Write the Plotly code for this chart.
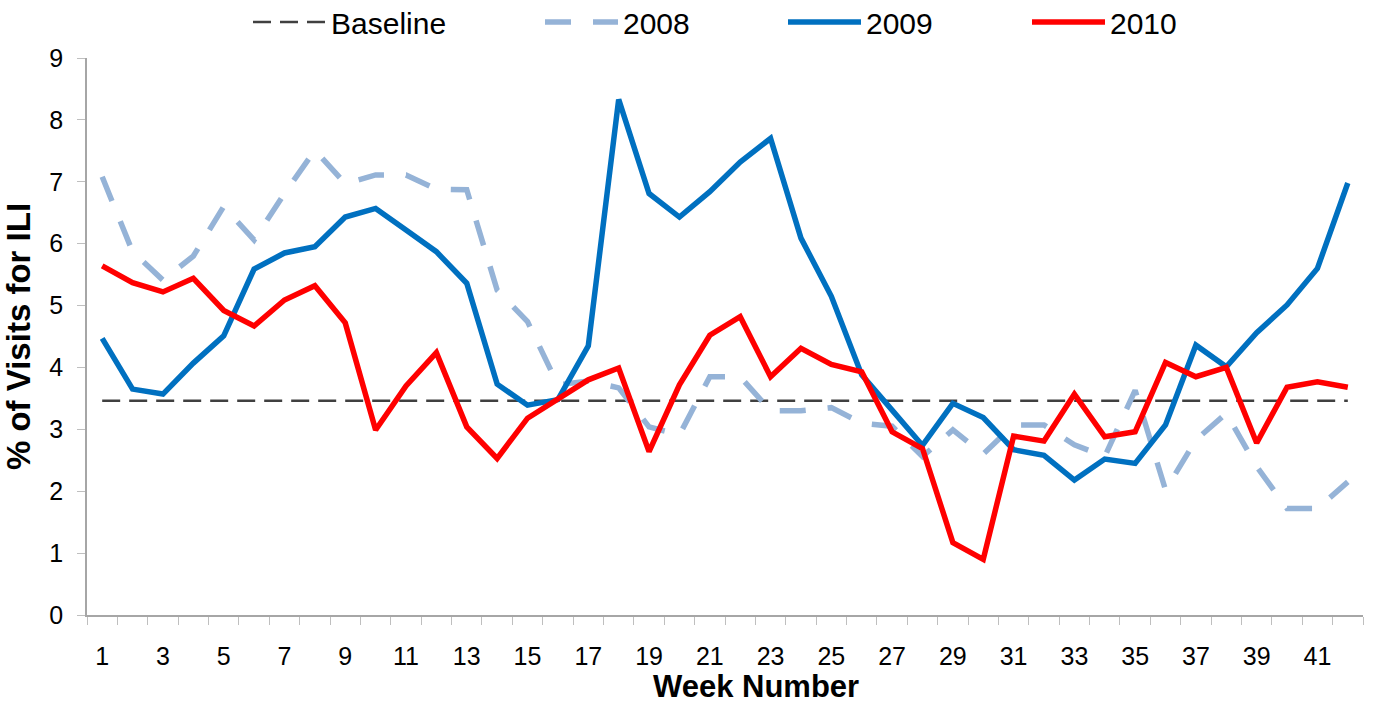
import plotly.graph_objects as go

weeks = list(range(1, 43))
baseline = [3.46] * 42
y2008 = [7.08, 5.87, 5.41, 5.80, 6.60, 6.06, 6.81, 7.51, 6.97, 7.11,
         7.11, 6.88, 6.87, 5.25, 4.74, 3.72, 3.78, 3.67, 3.04, 2.91,
         3.85, 3.85, 3.30, 3.30, 3.35, 3.10, 3.05, 2.56, 2.99, 2.60,
         3.07, 3.07, 2.75, 2.56, 3.63, 2.02, 2.83, 3.26, 2.40, 1.72,
         1.72, 2.15]
y2009 = [4.47, 3.65, 3.57, 4.07, 4.51, 5.59, 5.85, 5.95, 6.43, 6.57,
         6.22, 5.87, 5.36, 3.73, 3.39, 3.48, 4.35, 8.33, 6.81, 6.43,
         6.84, 7.32, 7.70, 6.09, 5.15, 3.88, 3.31, 2.74, 3.42, 3.19,
         2.67, 2.58, 2.18, 2.52, 2.45, 3.07, 4.36, 4.01, 4.56, 5.01,
         5.60, 6.98]
y2010 = [5.64, 5.37, 5.22, 5.44, 4.92, 4.67, 5.09, 5.32, 4.72, 2.99,
         3.70, 4.24, 3.04, 2.53, 3.18, 3.50, 3.80, 3.99, 2.64, 3.72,
         4.52, 4.82, 3.85, 4.31, 4.05, 3.93, 2.96, 2.69, 1.17, 0.90,
         2.89, 2.81, 3.57, 2.88, 2.96, 4.08, 3.85, 4.00, 2.78, 3.68,
         3.77, 3.68]
xticks = list(range(1, 42, 2))
yticks = list(range(0, 10))

font = "Liberation Sans, Arial, sans-serif"

# plot area geometry (pixels)
L, R, T, B = 87, 14, 58, 89
W, H = 1377, 704
pw = W - L - R
ph = H - T - B

def px_to_paper_x(px):
    return (px - L) / pw

def px_to_paper_y(py):
    return (H - B - py) / ph

fig = go.Figure()
fig.add_trace(go.Scatter(x=weeks, y=baseline, mode="lines", name="Baseline", legend="legend",
                         line=dict(color="#404040", width=2.5, dash="18px,9px")))
fig.add_trace(go.Scatter(x=weeks, y=y2008, mode="lines", name="2008", legend="legend2",
                         line=dict(color="#95B3D7", width=5.5, dash="26px,22px")))
fig.add_trace(go.Scatter(x=weeks, y=y2009, mode="lines", name="2009", legend="legend3",
                         line=dict(color="#0070C0", width=5.5)))
fig.add_trace(go.Scatter(x=weeks, y=y2010, mode="lines", name="2010", legend="legend4",
                         line=dict(color="#FF0000", width=5.5)))

legend_starts = {"legend": 253, "legend2": 545, "legend3": 788, "legend4": 1032}
legends = {}
for key, sx in legend_starts.items():
    legends[key] = dict(orientation="h", x=px_to_paper_x(sx - 5), xanchor="left",
                        y=px_to_paper_y(22), yanchor="middle",
                        font=dict(size=30, family=font), itemwidth=73,
                        bgcolor="rgba(0,0,0,0)", borderwidth=0)

fig.update_layout(
    width=W, height=H,
    margin=dict(l=L, r=R, t=T, b=B, autoexpand=False),
    paper_bgcolor="white", plot_bgcolor="white",
    font=dict(family=font, size=24, color="black"),
    showlegend=True,
    annotations=[dict(text="<b>Week Number</b>", xref="paper", yref="paper",
                      x=px_to_paper_x(756), y=px_to_paper_y(686),
                      xanchor="center", yanchor="middle", showarrow=False,
                      font=dict(size=31, family=font, color="black"))],
    **legends,
)
fig.update_xaxes(
    range=[0.5, 42.5], tickmode="array", tickvals=xticks,
    ticktext=[str(v) for v in xticks], ticks="", showgrid=False,
    showline=True, linecolor="#A6A6A6", linewidth=1.5, zeroline=False,
    tickfont=dict(size=25), automargin=False, ticklabelstandoff=18,
    minor=dict(tick0=0.5, dtick=1, ticks="outside", ticklen=8, tickcolor="#BFBFBF", showgrid=False),
)
fig.update_yaxes(
    range=[0, 9], tickmode="array", tickvals=yticks, showgrid=False,
    showline=True, linecolor="#A6A6A6", linewidth=1.5, zeroline=False,
    ticks="outside", ticklen=8, tickcolor="#BFBFBF", tickfont=dict(size=25),
    automargin=False, ticklabelstandoff=9,
    title=dict(text="<b>% of Visits for ILI</b>", font=dict(size=33), standoff=9),
)

fig.write_html("out.html", config={"displayModeBar": False},
               post_script="document.body.style.margin='0';")
